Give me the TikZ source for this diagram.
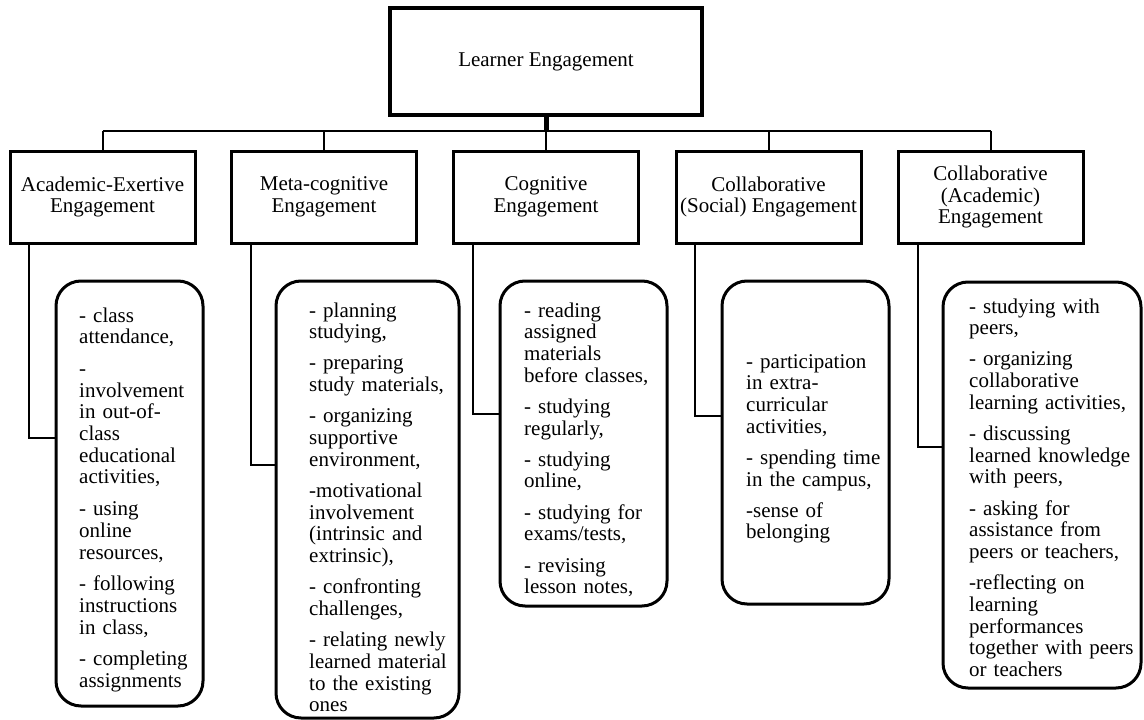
\documentclass[tikz,border=0pt]{standalone}
\usepackage{fontspec}
\setmainfont{Liberation Serif}
\begin{document}
\begin{tikzpicture}[x=1pt,y=-1pt,
  txt/.style={font=\fontsize{21}{21.7}\selectfont},
  topbox/.style={draw, line width=4.5pt, minimum width=312pt, minimum height=107pt, inner sep=0pt, txt},
  cat/.style={draw, line width=3pt, minimum width=185pt, minimum height=92pt, inner sep=0pt, align=center, txt},
  det/.style={draw, line width=3pt, rounded corners=25pt, inner sep=0pt},
  items/.style={anchor=base west, inner sep=0pt, text width=200pt, align=left, txt},
  conn/.style={line width=2pt}]
\useasboundingbox (0,0) rectangle (1144,720);

% top
\node[topbox] (top) at (546,61.5) {Learner Engagement};

% categories
\node[cat] (c1) at (102.5,197) {Academic-Exertive\\Engagement};
\node[cat] (c2) at (324,197) {Meta-cognitive\\Engagement};
\node[cat] (c3) at (546,197) {Cognitive\\Engagement};
\node[cat] (c4) at (768.5,197) {Collaborative\\(Social) Engagement};
\node[cat] (c5) at (990.5,197) {Collaborative\\(Academic)\\Engagement};

% tree connectors
\coordinate (bar) at (546,131);
\draw[line width=5pt] (top.south) -- (top.south |- bar);
\draw[conn] (c1.north |- bar) -- (c5.north |- bar);
\foreach \c in {c1,c2,c3,c4,c5} \draw[conn] (\c.north |- bar) -- (\c.north);

% detail boxes
\node[det, minimum width=147pt, minimum height=425pt] (dA) at (129.5,493.5) {};
\node[det, minimum width=183pt, minimum height=437pt] (dB) at (367.5,499.5) {};
\node[det, minimum width=167pt, minimum height=325pt] (dC) at (583.5,443.5) {};
\node[det, minimum width=167pt, minimum height=323pt] (dD) at (805.5,442.5) {};
\node[det, minimum width=198pt, minimum height=406pt] (dE) at (1042,485) {};

% elbow connectors
\coordinate (kA) at (29,438);
\coordinate (kB) at (251,465);
\coordinate (kC) at (473,414);
\coordinate (kD) at (695,416);
\coordinate (kE) at (918,447);
\draw[conn] (kA |- c1.south) -- (kA) -- (kA -| dA.west);
\draw[conn] (kB |- c2.south) -- (kB) -- (kB -| dB.west);
\draw[conn] (kC |- c3.south) -- (kC) -- (kC -| dC.west);
\draw[conn] (kD |- c4.south) -- (kD) -- (kD -| dD.west);
\draw[conn] (kE |- c5.south) -- (kE) -- (kE -| dE.west);

% texts
\node[items] (tA) at (79,322) {- class\\attendance,\\[10pt]-\\involvement\\in out-of-\\class\\educational\\activities,\\[10pt]- using\\online\\resources,\\[10pt]- following\\instructions\\in class,\\[10pt]- completing\\assignments};
\node[items] (tB) at (309,317) {- planning\\studying,\\[9.5pt]- preparing\\study materials,\\[9.5pt]- organizing\\supportive\\environment,\\[9.5pt]-motivational\\involvement\\(intrinsic and\\extrinsic),\\[9.5pt]- confronting\\challenges,\\[9.5pt]- relating newly\\learned material\\to the existing\\ones};
\node[items] (tC) at (524,317) {- reading\\assigned\\materials\\before classes,\\[9.5pt]- studying\\regularly,\\[9.5pt]- studying\\online,\\[9.5pt]- studying for\\exams/tests,\\[9.5pt]- revising\\lesson notes,};
\node[items] (tD) at (746,368) {- participation\\in extra-\\curricular\\activities,\\[9.5pt]- spending time\\in the campus,\\[9.5pt]-sense of\\belonging};
\node[items] (tE) at (969,313) {- studying with\\peers,\\[9.5pt]- organizing\\collaborative\\learning activities,\\[9.5pt]- discussing\\learned knowledge\\with peers,\\[9.5pt]- asking for\\assistance from\\peers or teachers,\\[9.5pt]-reflecting on\\learning\\performances\\together with peers\\or teachers};
\end{tikzpicture}
\end{document}
